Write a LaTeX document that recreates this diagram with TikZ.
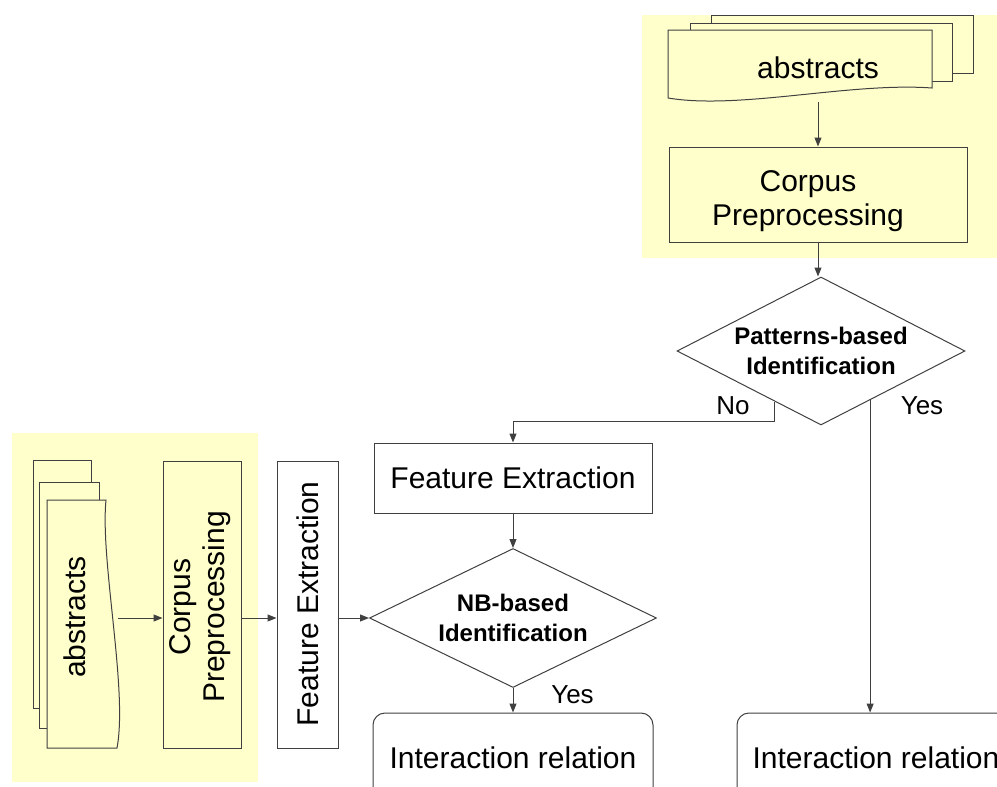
\documentclass[tikz,border=0pt]{standalone}
\usepackage{fontspec}
\setmainfont{Liberation Sans}
\usetikzlibrary{shapes.geometric,arrows.meta,calc}
\definecolor{hl}{RGB}{255,255,204}
\definecolor{ln}{RGB}{64,64,64}
\begin{document}
\begin{tikzpicture}[x=1pt,y=-1pt,
  box/.style={draw=ln,line width=1pt,inner sep=0pt,fill=white},
  txt/.style={font=\fontsize{30}{34}\selectfont,align=center,inner sep=0pt},
  dec/.style={shape=diamond,draw=ln,line width=1pt,inner sep=0pt,fill=white,align=center,font=\fontsize{24}{29.5}\selectfont\bfseries},
  arr/.style={draw=ln,line width=1pt,-{Triangle[length=9pt,width=7pt]}},
  lbl/.style={font=\fontsize{26}{30}\selectfont,inner sep=0pt},
  sheet/.style={draw=ln,line width=1pt,fill=hl}]
\useasboundingbox (0,0) rectangle (997,787);
\clip (0,0) rectangle (997,787);
% highlighted regions
\fill[hl] (642,15) rectangle (997,258);
\fill[hl] (12,433) rectangle (258,782);
% top document stack
\draw[sheet] (711,15) rectangle (973,73);
\draw[sheet] (690,23) rectangle (952,81);
\draw[sheet] (668,30) -- (932,30) -- (932,88) .. controls (850,82) and (740,110) .. (668,98) -- cycle;
\node[txt] (absT) at (818,68) {abstracts};
\coordinate (absTb) at (818,102);
\node[box,fill=hl,minimum width=298pt,minimum height=95pt] (cpT) at (818,194.5) {};
\node[txt] (cpTt) at (808,201) {Corpus\\Preprocessing};
\node[dec,aspect=1.95,minimum width=288pt,minimum height=148pt] (pd) at (821,351) {Patterns-based\\Identification};
\draw[arr] (absTb) -- (cpT.north);
\draw[arr] (cpT.south) -- (cpT.south |- pd.north);
% left document stack
\draw[sheet] (33,460) rectangle (91,708);
\draw[sheet] (39,482) rectangle (99,728);
\draw[sheet] (47,500) -- (106,500) .. controls (100,560) and (128,690) .. (117,748) -- (47,748) -- cycle;
\node[txt,rotate=90] (absL) at (75,617) {abstracts};
\coordinate (absLr) at (118,618);
\node[box,fill=hl,minimum width=78pt,minimum height=287pt] (cpL) at (202,604.5) {};
\node[txt,rotate=90] (cpLt) at (200,607) {Corpus\\Preprocessing};
\node[box,minimum width=61pt,minimum height=287pt] (feL) at (307.5,604.5) {};
\node[txt,rotate=90] (feLt) at (307.5,604) {Feature Extraction};
% middle column
\node[box,txt,minimum width=278pt,minimum height=70pt] (fe) at (513,478) {Feature Extraction};
\node[dec,aspect=2.06,minimum width=287pt,minimum height=139pt] (nb) at (513,618) {NB-based\\Identification};
\node[box,txt,rounded corners=12pt,minimum width=280pt,minimum height=90pt] (ir1) at (513,758) {Interaction relation};
\node[box,txt,rounded corners=12pt,minimum width=278pt,minimum height=90pt] (ir2) at (876,758) {Interaction relation};
% connectors
\draw[arr] (absLr) -- (absLr -| cpL.west);
\draw[arr] (cpL.east |- nb.west) -- (feL.west |- nb.west);
\draw[arr] (feL.east |- nb.west) -- (nb.west);
\draw[arr] (fe.south) -- (nb.north);
\draw[arr] (nb.south) -- (ir1.north);
\coordinate (noS) at ($(pd.west)!0.68!(pd.south)$);
\coordinate (yesS) at ($(pd.east)!0.66!(pd.south)$);
\draw[arr] (noS) -- ++(0,20) -| (fe.north);
\draw[arr] (yesS) -- (yesS |- ir2.north);
\node[lbl] (no) at (733,405.5) {No};
\node[lbl] (yes1) at (922,405.5) {Yes};
\node[lbl] (yes2) at (572.5,695) {Yes};
\end{tikzpicture}
\end{document}
